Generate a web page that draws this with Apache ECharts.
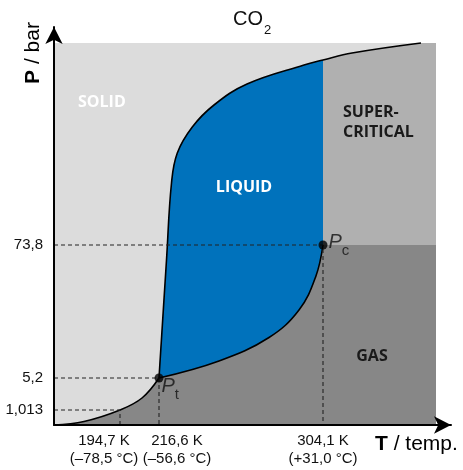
<!DOCTYPE html>
<html>
<head>
<meta charset="utf-8">
<title>CO2 phase diagram</title>
<script src="https://cdn.jsdelivr.net/npm/echarts@6/dist/echarts.min.js"></script>
<style>
  html, body { margin: 0; padding: 0; background: #fff; }
  #chart { width: 463px; height: 470px; }
</style>
</head>
<body>
<div id="chart"></div>
<script>
// schematic diagram: axes have no real scale, 1 unit ~ 1 px of plot
const plotEnd = 382;
const triplePoint = [105, 47];
const criticalPoint = [269, 180];
const atmPoint = [66, 15];

const sublimationCurve = [[0, 0], [30, 3.5], [66, 15], [88, 27], [105, 47]];
const vaporCurve = [[105, 47], [165, 64], [215, 87.5], [245, 115], [261.7, 148.3], [269, 180]];
const meltingCurve = [[105, 47], [112.5, 165], [117.5, 242], [123.3, 272], [138.3, 298], [160, 320],
  [193, 341], [250, 360], [269, 365], [298, 372], [367, 382]];

// tick labels (the two left ones sit spread apart from their dashed lines)
const xLabelPos = [50, 123, 269];
const xLabels = ['194,7 K\n(–78,5 °C)', '216,6 K\n(–56,6 °C)', '304,1 K\n(+31,0 °C)'];
const yLabelPos = [15, 47, 180];
const yLabels = ['1,013', '5,2', '73,8'];

const font = 'Liberation Sans';
const liquidTop = meltingCurve.filter(p => p[0] <= criticalPoint[0]);
const superTop = meltingCurve.filter(p => p[0] >= criticalPoint[0]);
const SMOOTH = 0.4;

function area(data, color, smooth) {
  return {
    type: 'line', data: data, smooth: smooth ? SMOOTH : false, symbol: 'none', silent: true,
    lineStyle: { width: 0 }, areaStyle: { color: color, opacity: 1 }
  };
}
function curve(data) {
  return {
    type: 'line', data: data, smooth: SMOOTH, symbol: 'none', silent: true,
    lineStyle: { color: '#000', width: 1.6 }
  };
}
function dashed(p) {
  return {
    type: 'line', data: [[0, p[1]], [p[0], p[1]], [p[0], 0]], symbol: 'none', silent: true,
    lineStyle: { color: '#222', width: 1.1, type: [4, 3] }
  };
}

const chart = echarts.init(document.getElementById('chart'));
chart.setOption({
  animation: false,
  backgroundColor: '#fff',
  title: [
    { text: 'CO', left: 233, top: 9, padding: 0, textStyle: { fontSize: 20, fontWeight: 'normal', fontFamily: font, color: '#111' } },
    { text: '2', left: 264, top: 24, padding: 0, textStyle: { fontSize: 13, fontWeight: 'normal', fontFamily: font, color: '#111' } }
  ],
  grid: { left: 54, right: 12, top: 27, bottom: 45 },
  xAxis: {
    type: 'value', min: 0, max: 397, z: 10,
    axisLine: { show: true, onZero: false, symbol: ['none', 'arrow'], symbolSize: [13, 17], lineStyle: { color: '#000', width: 2 } },
    axisTick: { show: false }, splitLine: { show: false },
    axisLabel: {
      customValues: xLabelPos, formatter: v => xLabels[xLabelPos.indexOf(v)],
      fontSize: 15, lineHeight: 18, color: '#111', fontFamily: font, margin: 7
    }
  },
  yAxis: {
    type: 'value', min: 0, max: 398, z: 10,
    axisLine: { show: true, onZero: false, symbol: ['none', 'arrow'], symbolSize: [13, 17], lineStyle: { color: '#000', width: 2 } },
    axisTick: { show: false }, splitLine: { show: false },
    axisLabel: {
      customValues: yLabelPos, formatter: v => yLabels[yLabelPos.indexOf(v)],
      fontSize: 15, color: '#111', fontFamily: font, margin: 11
    }
  },
  graphic: [
    { type: 'text', x: 33, y: 53, rotation: Math.PI / 2, z: 20,
      style: { text: '{b|P}{n| / bar}', align: 'center', verticalAlign: 'middle', fill: '#000',
        rich: { b: { fontWeight: 'bold', fontSize: 21, fontFamily: font }, n: { fontSize: 21, fontFamily: font } } } },
    { type: 'text', x: 375, y: 444, z: 20,
      style: { text: '{b|T}{n| / temp.}', align: 'left', verticalAlign: 'middle', fill: '#000',
        rich: { b: { fontWeight: 'bold', fontSize: 21, fontFamily: font }, n: { fontSize: 21, fontFamily: font } } } },
    { type: 'text', x: 78, y: 102, z: 20,
      style: { text: 'SOLID', fill: '#fff', verticalAlign: 'middle', font: 'bold 16px "Open Sans"' } },
    { type: 'text', x: 244, y: 187, z: 20,
      style: { text: 'LIQUID', fill: '#fff', align: 'center', verticalAlign: 'middle', font: 'bold 16px "Open Sans"' } },
    { type: 'text', x: 343, y: 122, z: 20,
      style: { text: 'SUPER-\nCRITICAL', fill: '#1a1a1a', verticalAlign: 'middle', lineHeight: 20, font: 'bold 16px "Open Sans"' } },
    { type: 'text', x: 372, y: 356, z: 20,
      style: { text: 'GAS', fill: '#1a1a1a', align: 'center', verticalAlign: 'middle', font: 'bold 16px "Open Sans"' } }
  ],
  series: [
    area([[0, plotEnd], [plotEnd, plotEnd]], '#dcdcdc', false),
    area(liquidTop, '#0072bc', true),
    area(superTop, '#b0b0b0', true),
    area([[superTop[superTop.length - 1][0], plotEnd], [plotEnd, plotEnd]], '#b0b0b0', false),
    area(sublimationCurve, '#878787', true),
    area(vaporCurve, '#878787', true),
    area([[criticalPoint[0], criticalPoint[1]], [plotEnd, criticalPoint[1]]], '#878787', false),
    curve(sublimationCurve),
    curve(vaporCurve),
    curve(meltingCurve),
    dashed(criticalPoint),
    dashed(triplePoint),
    dashed(atmPoint),
    {
      type: 'scatter', symbolSize: 9, silent: true, z: 5,
      data: [
        { value: triplePoint, label: { formatter: '{p|P}{s|t}', position: [7, 3] } },
        { value: criticalPoint, label: { formatter: '{p|P}{s|c}', position: [10, -8] } }
      ],
      itemStyle: { color: '#000' },
      label: {
        show: true, color: '#111',
        rich: {
          p: { fontSize: 20, fontStyle: 'italic', fontFamily: font, verticalAlign: 'top' },
          s: { fontSize: 15, fontFamily: font, verticalAlign: 'top', padding: [11, 0, 0, 0] }
        }
      }
    }
  ]
});
</script>
</body>
</html>
